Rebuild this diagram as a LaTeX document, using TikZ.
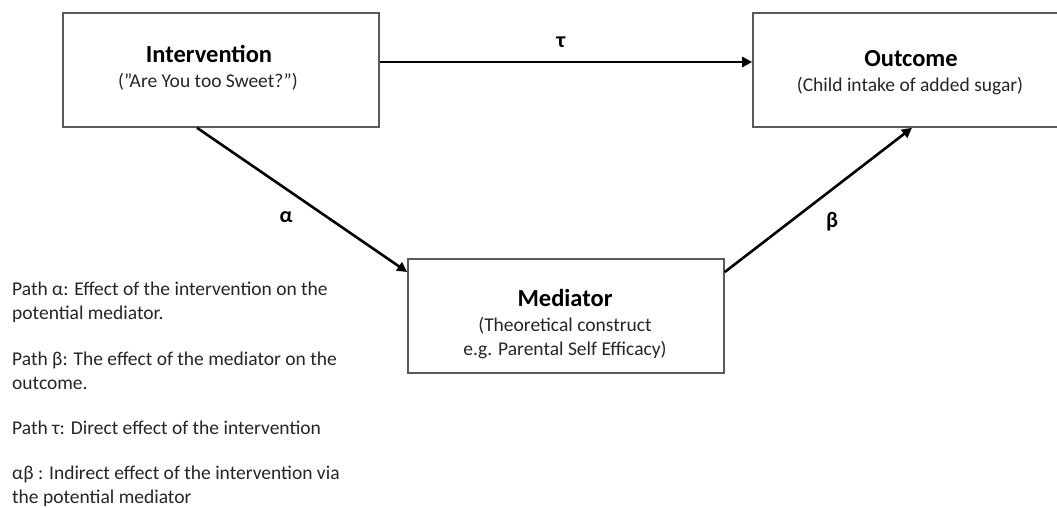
\documentclass[tikz,border=0pt]{standalone}
\usepackage{fontspec}
\setmainfont{Carlito}
\usetikzlibrary{arrows.meta}
\tikzset{
  box/.style={draw=black!65, line width=1.6pt, fill=white, minimum width=316pt, minimum height=114pt, inner sep=0pt},
  ttl/.style={anchor=base, font=\fontsize{24.5}{28}\selectfont\bfseries, inner sep=0pt},
  sub/.style={anchor=base, font=\fontsize{19.5}{24}\selectfont, inner sep=0pt, text=black!85},
  conn/.style={line width=2.6pt, -{Triangle[length=10pt,width=10pt]}},
  glab/.style={font=\fontsize{22}{26}\selectfont\bfseries, inner sep=0pt},
  note/.style={anchor=base west, align=left, font=\fontsize{19.5}{24}\selectfont, inner sep=0pt, text=black!85}
}
\begin{document}
\begin{tikzpicture}[x=1pt,y=-1pt]
\path[use as bounding box, fill=white] (0,0) rectangle (1057,508);
\begin{scope}
\clip (0,0) rectangle (1057,508);
\node[box] (int) at (221,70) {};
\node[box] (out) at (911,70) {};
\node[box] (med) at (566,316) {};
% texts
\node[ttl] (intT) at (209,63) {Intervention};
\node[sub] (intS) at (208,88) {(”Are You too Sweet?”)};
\node[ttl] (outT) at (911,67) {Outcome};
\node[sub] (outS) at (910,92) {(Child intake of added sugar)};
\node[ttl] (medT) at (565,306) {Mediator};
\node[sub] (medS1) at (565,331) {(Theoretical construct};
\node[sub] (medS2) at (565,355) {e.g. Parental Self Efficacy)};
% connectors
\draw[conn] ([yshift=8pt]int.east) -- ([yshift=8pt]out.west);
\draw[conn] ([xshift=-24pt]int.south) -- ([yshift=44pt]med.west);
\draw[conn] ([yshift=44pt]med.east) -- ([xshift=1pt]out.south);
% path labels
\node[glab] (tau) at (561,42) {τ};
\node[glab] (alpha) at (286,217) {α};
\node[glab] (beta) at (832,222) {β};
% notes (anchored at the baseline of their last line)
\node[note] (n1) at (12,319) {Path α: Effect of the intervention on the\\potential mediator.};
\node[note] (n2) at (12,389) {Path β: The effect of the mediator on the\\outcome.};
\node[note] (n3) at (12,434) {Path τ: Direct effect of the intervention};
\node[note] (n4) at (12,503) {αβ : Indirect effect of the intervention via\\the potential mediator};
\end{scope}
\end{tikzpicture}
\end{document}
